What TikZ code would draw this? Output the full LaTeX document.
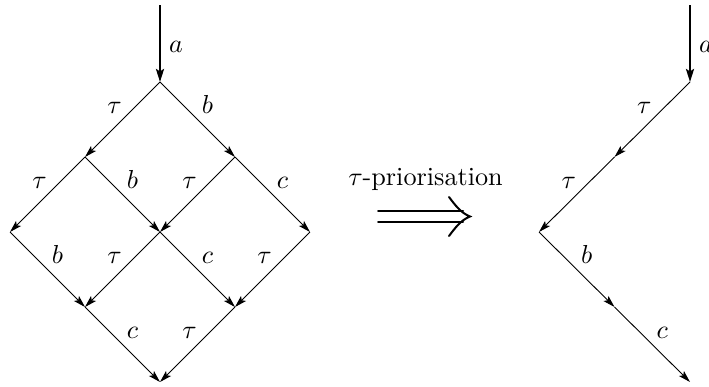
\documentclass[tikz,border=0pt]{standalone}
\usetikzlibrary{arrows.meta}
\newcommand{\dlab}[1]{\scalebox{2.6}{$#1$}}
\begin{document}
\begin{tikzpicture}[x=1pt,y=-1pt,
  edge/.style={line width=0.9pt,-{Stealth[length=12pt,width=7pt,inset=2.5pt]}},
  thickedge/.style={line width=2.4pt,-{Stealth[length=13pt,width=8pt,inset=2.5pt]}},
  lbl/.style={font=\normalsize,inner sep=0pt,anchor=base},
  lblL/.style={lbl,xshift=-8pt,yshift=6pt},
  lblR/.style={lbl,xshift=10pt,yshift=6pt},
  lblV/.style={lbl,xshift=16pt,yshift=-8.5pt},
  impl/.style={line width=2pt,line cap=round}]
\useasboundingbox (0,0) rectangle (709,386);
% left diamond
\coordinate (L0) at (160,5);
\coordinate (L1) at (160,82);
\coordinate (L2a) at (85,157);
\coordinate (L2b) at (235,157);
\coordinate (L3a) at (10,232);
\coordinate (L3b) at (160,232);
\coordinate (L3c) at (310,232);
\coordinate (L4a) at (85,307);
\coordinate (L4b) at (235,307);
\coordinate (L5) at (160,382);
\draw[thickedge] (L0) -- node[lblV] {\dlab{a}} (L1);
\draw[edge] (L1) -- node[lblL] {\dlab{\tau}} (L2a);
\draw[edge] (L1) -- node[lblR] {\dlab{b}} (L2b);
\draw[edge] (L2a) -- node[lblL] {\dlab{\tau}} (L3a);
\draw[edge] (L2a) -- node[lblR] {\dlab{b}} (L3b);
\draw[edge] (L2b) -- node[lblL] {\dlab{\tau}} (L3b);
\draw[edge] (L2b) -- node[lblR] {\dlab{c}} (L3c);
\draw[edge] (L3a) -- node[lblR] {\dlab{b}} (L4a);
\draw[edge] (L3b) -- node[lblL] {\dlab{\tau}} (L4a);
\draw[edge] (L3b) -- node[lblR] {\dlab{c}} (L4b);
\draw[edge] (L3c) -- node[lblL] {\dlab{\tau}} (L4b);
\draw[edge] (L4a) -- node[lblR] {\dlab{c}} (L5);
\draw[edge] (L4b) -- node[lblL] {\dlab{\tau}} (L5);
% implication arrow
\node[lbl] (prio) at (425.5,185) {\scalebox{2.62}{$\tau$-priorisation}};
\coordinate (i0a) at (378,210.7);
\coordinate (i1a) at (463,210.7);
\coordinate (i0b) at (378,222.3);
\coordinate (i1b) at (463,222.3);
\coordinate (itip) at (470,216.5);
\coordinate (itop) at (449,197);
\coordinate (ibot) at (449,236);
\draw[impl] (i0a) -- (i1a);
\draw[impl] (i0b) -- (i1b);
\draw[impl] (itop) .. controls (455,205) and (461,213) .. (itip)
  .. controls (461,220) and (455,228) .. (ibot);
% right path
\coordinate (R0) at (690,5);
\coordinate (R1) at (690,82);
\coordinate (R2) at (614.5,157);
\coordinate (R3) at (539,232);
\coordinate (R4) at (614.5,307);
\coordinate (R5) at (690,382);
\draw[thickedge] (R0) -- node[lblV] {\dlab{a}} (R1);
\draw[edge] (R1) -- node[lblL] {\dlab{\tau}} (R2);
\draw[edge] (R2) -- node[lblL] {\dlab{\tau}} (R3);
\draw[edge] (R3) -- node[lblR] {\dlab{b}} (R4);
\draw[edge] (R4) -- node[lblR] {\dlab{c}} (R5);
\end{tikzpicture}
\end{document}
